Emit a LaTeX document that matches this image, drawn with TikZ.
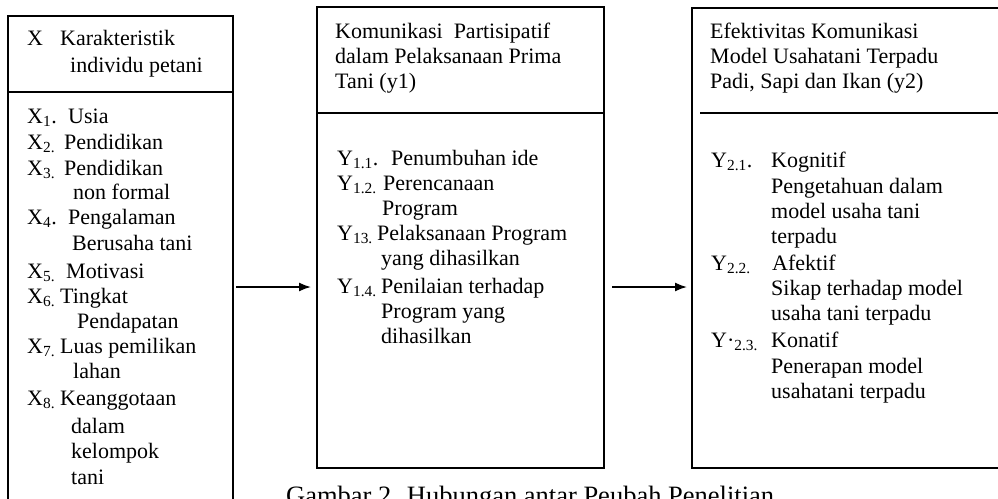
\documentclass[tikz,border=0pt]{standalone}
\usepackage{fontspec}
\setmainfont{Liberation Serif}
\usetikzlibrary{arrows.meta}
\newcommand\sbs[1]{\textsubscript{#1}}
\begin{document}
\begin{tikzpicture}[x=1pt,y=-1pt,
  txt/.style={anchor=base west, inner sep=0pt, font=\fontsize{22}{26}\selectfont},
  boxframe/.style={draw, line width=1.8pt, anchor=north west, inner sep=0pt},
  divider/.style={line width=1.8pt},
  arr/.style={line width=1.6pt, -{Latex[length=12pt,width=9pt]}}]
\clip (0,0) rectangle (998,498);
\fill[white] (0,0) rectangle (998,498);
% boxes
\node[boxframe, minimum width=225pt, minimum height=515pt] (lbox) at (7,15) {};
\node[boxframe, minimum width=287pt, minimum height=461pt] (mbox) at (316,6) {};
\node[boxframe, minimum width=330pt, minimum height=460pt] (rbox) at (691,7) {};
% dividers
\draw[divider] (lbox.west |- 0,92) -- (lbox.east |- 0,92);
\draw[divider] (mbox.west |- 0,113) -- (mbox.east |- 0,113);
\coordinate (rdiv) at (700,113);
\draw[divider] (rdiv) -- (rbox.east |- rdiv);
% arrows
\coordinate (a1s) at (236,287);
\coordinate (a1e) at (311,287);
\coordinate (a2s) at (612,287);
\coordinate (a2e) at (687,287);
\draw[arr] (a1s) -- (a1e);
\draw[arr] (a2s) -- (a2e);
% left box text
\node[txt] (lx) at (27,45) {X};
\node[txt] (lh1) at (60,45) {Karakteristik};
\node[txt] (lh2) at (70,72) {individu petani};
\node[txt] (x1) at (27,123) {X\sbs{1}.};
\node[txt] (x1t) at (68,123) {Usia};
\node[txt] (x2) at (27,149) {X\sbs{2.}};
\node[txt] (x2t) at (64,149) {Pendidikan};
\node[txt] (x3) at (27,175) {X\sbs{3.}};
\node[txt] (x3t) at (64,175) {Pendidikan};
\node[txt] (x3u) at (73,199) {non formal};
\node[txt] (x4) at (27,224) {X\sbs{4}.};
\node[txt] (x4t) at (68,224) {Pengalaman};
\node[txt] (x4u) at (72,250) {Berusaha tani};
\node[txt] (x5) at (27,278) {X\sbs{5.}};
\node[txt] (x5t) at (66,278) {Motivasi};
\node[txt] (x6) at (27,303) {X\sbs{6.}};
\node[txt] (x6t) at (60,303) {Tingkat};
\node[txt] (x6u) at (77,328) {Pendapatan};
\node[txt] (x7) at (27,353) {X\sbs{7.}};
\node[txt] (x7t) at (60,353) {Luas pemilikan};
\node[txt] (x7u) at (73,378) {lahan};
\node[txt] (x8) at (27,405) {X\sbs{8.}};
\node[txt] (x8t) at (60,405) {Keanggotaan};
\node[txt] (x8u) at (71,433) {dalam};
\node[txt] (x8v) at (71,458) {kelompok};
\node[txt] (x8w) at (71,484) {tani};
% middle box text
\node[txt] (mh1) at (335,38) {Komunikasi\ \ Partisipatif};
\node[txt] (mh2) at (335,63) {dalam Pelaksanaan Prima};
\node[txt] (mh3) at (335,88) {Tani (y1)};
\node[txt] (y11) at (337,165) {Y\sbs{1.1}.};
\node[txt] (y11t) at (391,165) {Penumbuhan ide};
\node[txt] (y12) at (337,190) {Y\sbs{1.2.}};
\node[txt] (y12t) at (383,190) {Perencanaan};
\node[txt] (y12u) at (382,215) {Program};
\node[txt] (y13) at (337,240) {Y\sbs{13.}};
\node[txt] (y13t) at (377,240) {Pelaksanaan Program};
\node[txt] (y13u) at (381,265) {yang dihasilkan};
\node[txt] (y14) at (337,293) {Y\sbs{1.4.}};
\node[txt] (y14t) at (381,293) {Penilaian terhadap};
\node[txt] (y14u) at (381,318) {Program yang};
\node[txt] (y14v) at (381,343) {dihasilkan};
% right box text
\node[txt] (rh1) at (710,38) {Efektivitas Komunikasi};
\node[txt] (rh2) at (710,63) {Model Usahatani Terpadu};
\node[txt] (rh3) at (710,88) {Padi, Sapi dan Ikan (y2)};
\node[txt] (y21) at (711,167) {Y\sbs{2.1}.};
\node[txt] (y21t) at (771,167) {Kognitif};
\node[txt] (y21u) at (771,193) {Pengetahuan dalam};
\node[txt] (y21v) at (771,218) {model usaha tani};
\node[txt] (y21w) at (771,243) {terpadu};
\node[txt] (y22) at (711,270) {Y\sbs{2.2.}};
\node[txt] (y22t) at (772,270) {Afektif};
\node[txt] (y22u) at (771,295) {Sikap terhadap model};
\node[txt] (y22v) at (771,320) {usaha tani terpadu};
\node[txt] (y23) at (711,347) {Y·\sbs{2.3.}};
\node[txt] (y23t) at (771,347) {Konatif};
\node[txt] (y23u) at (771,373) {Penerapan model};
\node[txt] (y23v) at (771,398) {usahatani terpadu};
% caption
\node[anchor=base west, inner sep=0pt, font=\fontsize{26.5}{30}\selectfont] (cap) at (286,504) {Gambar 2. Hubungan antar Peubah Penelitian};
\end{tikzpicture}
\end{document}
